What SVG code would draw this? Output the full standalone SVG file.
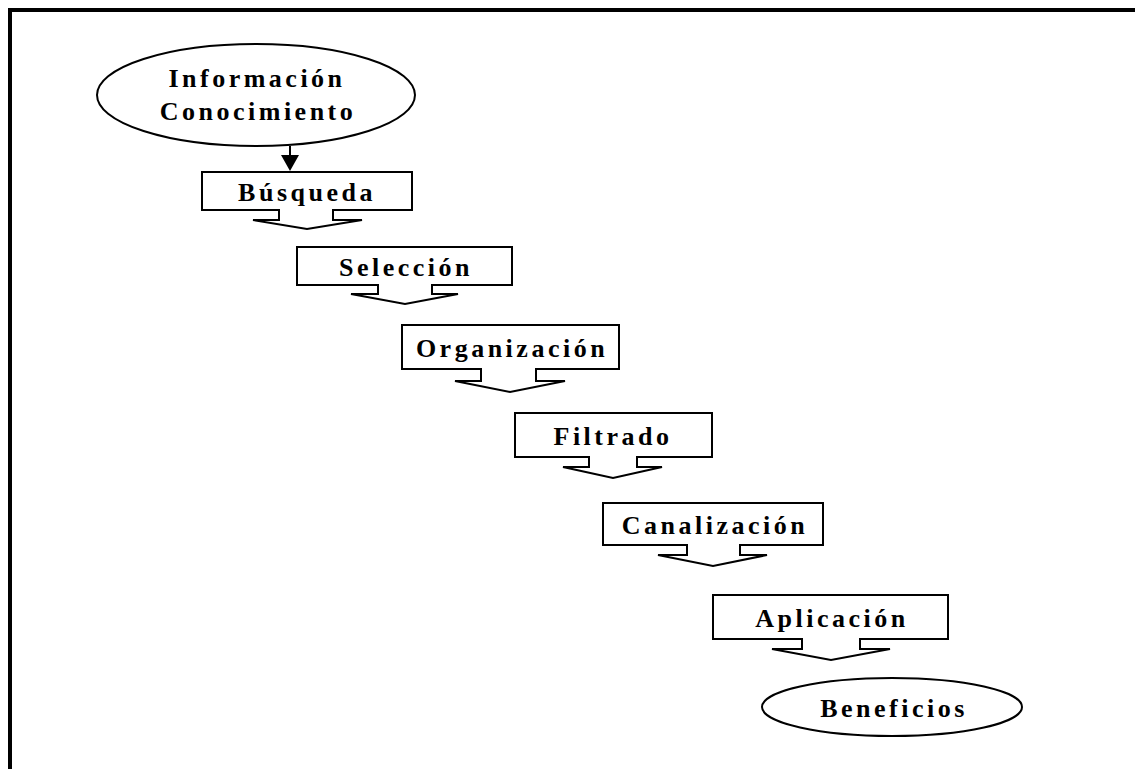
<svg xmlns="http://www.w3.org/2000/svg" width="1135" height="769" viewBox="0 0 1135 769">
  <style>
    .shape { fill: #ffffff; stroke: #000000; stroke-width: 2; stroke-linejoin: miter; }
    .label { font-family: "Liberation Serif", "Times New Roman", serif; font-weight: bold; font-size: 26px; letter-spacing: 3.5px; text-anchor: middle; fill: #000000; }
    .frame { fill: none; stroke: #000000; stroke-width: 4; }
  </style>
  <rect width="1135" height="769" fill="#ffffff"/>
  <!-- page frame: top and left edges -->
  <path class="frame" d="M10,769 V10 H1135"/>

  <g id="node-informacion">
    <ellipse class="shape" cx="256" cy="95" rx="159" ry="51"/>
    <text class="label" x="257" y="87">Información</text>
    <text class="label" x="258" y="120">Conocimiento</text>
  </g>

  <g id="connectors">
    <line x1="290" y1="146" x2="290" y2="156" stroke="#000" stroke-width="2"/>
    <polygon points="281,155 299,155 290,171" fill="#000"/>
  </g>

  <g id="node-busqueda">
    <path class="shape" d="M202,172 H412 V210 H333 V220 H362 L307,229 L253,220 H279 V210 H202 Z"/>
    <text class="label" x="307" y="201">Búsqueda</text>
  </g>

  <g id="node-seleccion">
    <path class="shape" d="M297,247 H512 V285 H432 V294 H458 L405,304 L351,294 H378 V285 H297 Z"/>
    <text class="label" x="406" y="276">Selección</text>
  </g>

  <g id="node-organizacion">
    <path class="shape" d="M402,325 H619 V369 H536 V381 H565 L510,392 L455,381 H481 V369 H402 Z"/>
    <text class="label" x="512" y="357">Organización</text>
  </g>

  <g id="node-filtrado">
    <path class="shape" d="M515,413 H712 V457 H637 V467 H662 L613,478 L563,467 H589 V457 H515 Z"/>
    <text class="label" x="613" y="445">Filtrado</text>
  </g>

  <g id="node-canalizacion">
    <path class="shape" d="M603,503 H823 V545 H740 V555 H767 L713,566 L658,555 H687 V545 H603 Z"/>
    <text class="label" x="715" y="534">Canalización</text>
  </g>

  <g id="node-aplicacion">
    <path class="shape" d="M713,595 H948 V639 H860 V649 H890 L831,660 L772,649 H802 V639 H713 Z"/>
    <text class="label" x="832" y="627">Aplicación</text>
  </g>

  <g id="node-beneficios">
    <ellipse class="shape" cx="892" cy="707" rx="130" ry="29"/>
    <text class="label" x="894" y="717">Beneficios</text>
  </g>
</svg>
